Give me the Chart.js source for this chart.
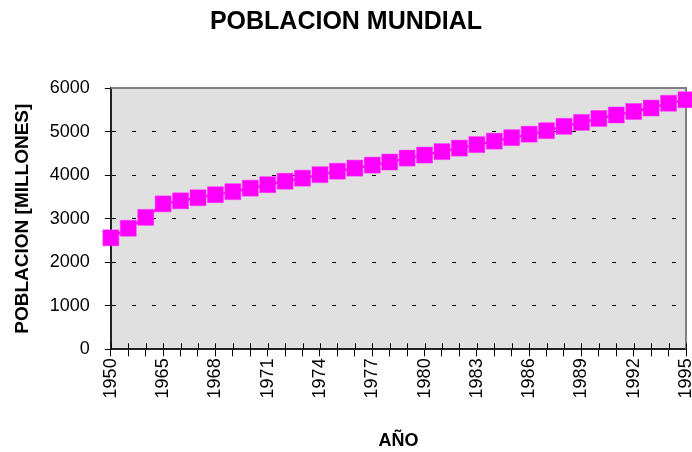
<!DOCTYPE html>
<html>
<head>
<meta charset="utf-8">
<script src="https://cdn.jsdelivr.net/npm/chart.js@4/dist/chart.umd.min.js"></script>
<style>
  html, body { margin: 0; padding: 0; background: #fff; }
  #wrap { width: 692px; height: 452px; }
</style>
</head>
<body>
<div id="wrap"><canvas id="c" width="692" height="452"></canvas></div>
<script>
// Categories (years) and population values (millions)
const years = ['1950','1955','1960','1965','1966','1967','1968','1969','1970','1971','1972','1973','1974','1975','1976','1977','1978','1979','1980','1981','1982','1983','1984','1985','1986','1987','1988','1989','1990','1991','1992','1993','1994','1995'];
const population = [2560, 2780, 3030, 3340, 3410, 3480, 3550, 3620, 3700, 3780, 3860, 3930, 4010, 4090, 4160, 4230, 4300, 4390, 4460, 4540, 4620, 4700, 4780, 4860, 4940, 5020, 5120, 5210, 5300, 5380, 5460, 5540, 5650, 5730];
// Tick labels shown on the x axis
const shownYearLabels = ['1950','1965','1968','1971','1974','1977','1980','1983','1986','1989','1992','1995'];
const yTicks = [0, 1000, 2000, 3000, 4000, 5000, 6000];

const chartTitle = 'POBLACION MUNDIAL';
const xTitle = 'AÑO';
const yTitle = 'POBLACION [MILLONES]';

const FONT = '"Liberation Sans", Arial, sans-serif';

const plotDecor = {
  id: 'plotDecor',
  beforeDraw(chart) {
    const {ctx, chartArea: a} = chart;
    ctx.save();
    ctx.fillStyle = '#E0E0E0';
    ctx.fillRect(a.left, a.top, a.right - a.left, a.bottom - a.top);
    ctx.restore();
  },
  beforeDatasetsDraw(chart) {
    const {ctx, chartArea: a} = chart;
    ctx.save();
    ctx.strokeStyle = '#808080';
    ctx.lineWidth = 2;
    ctx.beginPath();
    ctx.moveTo(a.left, a.top);
    ctx.lineTo(a.right, a.top);
    ctx.lineTo(a.right, a.bottom);
    ctx.stroke();
    // inner half of x tick marks (ticks cross the axis)
    const xs = chart.scales.x;
    ctx.strokeStyle = '#000';
    ctx.lineWidth = 1;
    ctx.beginPath();
    for (let i = 0; i < xs.ticks.length; i++) {
      const px = Math.round(xs.getPixelForTick(i)) + 0.5;
      ctx.moveTo(px, a.bottom - 6);
      ctx.lineTo(px, a.bottom);
    }
    ctx.stroke();
    ctx.restore();
  }
};

new Chart(document.getElementById('c'), {
  type: 'line',
  data: {
    labels: years,
    datasets: [{
      data: population,
      borderColor: '#FF00FF',
      backgroundColor: '#FF00FF',
      borderWidth: 2.5,
      pointStyle: 'rect',
      pointRadius: 11.3,
      pointHoverRadius: 11.3,
      pointBackgroundColor: '#FF00FF',
      pointBorderColor: '#FF33FF',
      pointBorderWidth: 0.5,
      tension: 0,
      clip: false
    }]
  },
  options: {
    responsive: false,
    animation: false,
    layout: { autoPadding: false, padding: { left: 0, right: 0, top: 0, bottom: 0 } },
    plugins: {
      legend: { display: false },
      tooltip: { enabled: false },
      title: {
        display: true,
        text: chartTitle,
        color: '#000',
        font: { family: FONT, size: 25, weight: 'bold' },
        padding: { top: 7, bottom: 51 }
      }
    },
    scales: {
      x: {
        type: 'category',
        offset: false,
        afterFit: function(scale) {
          scale.paddingRight = 6;
          scale.paddingLeft = 0;
        },
        title: {
          display: true,
          text: xTitle,
          color: '#000',
          font: { family: FONT, size: 18, weight: 'bold' },
          padding: { top: 30, bottom: 0 }
        },
        ticks: {
          autoSkip: false,
          maxRotation: 90,
          minRotation: 90,
          color: '#000',
          padding: 2,
          font: { family: FONT, size: 18 },
          callback: function(v, i) {
            const lab = years[i];
            return shownYearLabels.includes(lab) ? lab : '';
          }
        },
        grid: {
          drawOnChartArea: false,
          drawTicks: true,
          tickLength: 7,
          tickColor: '#000',
          tickWidth: 1,
          color: '#000'
        },
        border: { display: true, color: '#222', width: 2 }
      },
      y: {
        min: 0,
        max: 6000,
        afterBuildTicks: function(scale) {
          scale.ticks = yTicks.map(v => ({ value: v }));
        },
        title: {
          display: true,
          text: yTitle,
          color: '#000',
          font: { family: FONT, size: 19, weight: 'bold' },
          padding: { top: 11, bottom: 1 }
        },
        ticks: {
          color: '#000',
          padding: 15,
          font: { family: FONT, size: 18 },
          callback: function(v) { return String(v); }
        },
        grid: {
          color: '#000',
          lineWidth: 1,
          tickLength: 6,
          tickColor: '#000',
          tickWidth: 1,
          borderDash: [4, 16]
        },
        border: { display: true, color: '#222', width: 2, dash: [4, 16] }
      }
    }
  },
  plugins: [plotDecor]
});
</script>
</body>
</html>
